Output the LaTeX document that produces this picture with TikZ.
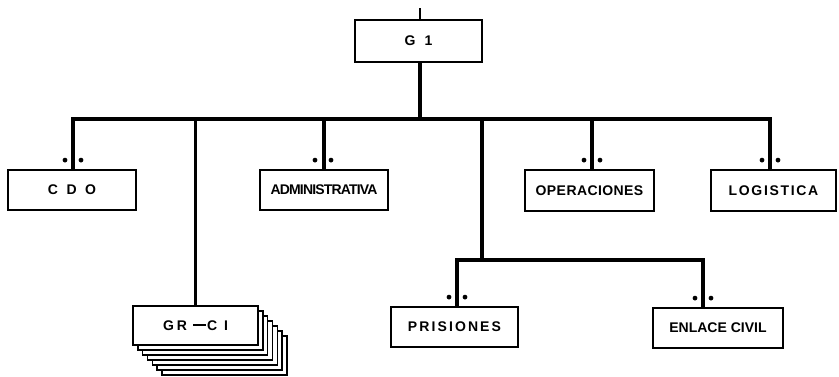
\documentclass[tikz,border=0pt]{standalone}
\usepackage{fontspec}
\setmainfont{Liberation Sans}
\begin{document}
\begin{tikzpicture}[x=1pt,y=-1pt,
  unit/.style={draw, line width=1.8pt, fill=white, rectangle, inner sep=0pt,
    minimum height=40pt, font=\fontsize{14}{16}\selectfont\bfseries},
  link/.style={line width=3.2pt},
  dot/.style={fill=black}]
\useasboundingbox (0,0) rectangle (839,376);

% nodes
\node[unit, minimum width=127pt, minimum height=42pt] (g1) at (418.5,41) {G\hspace{9pt}1};
\node[unit, minimum width=128pt] (cdo) at (72,190) {C\hspace{8.5pt}D\hspace{8.5pt}O};
\node[unit, minimum width=128pt] (adm) at (324,190) {\addfontfeature{LetterSpace=-6}ADMINISTRATIVA};
\node[unit, minimum width=129pt, minimum height=41pt] (ope) at (589.5,190.5) {\addfontfeature{LetterSpace=3}OPERACIONES};
\node[unit, minimum width=125pt, minimum height=41pt] (log) at (773.5,190.5) {\addfontfeature{LetterSpace=12}LOGISTICA};

% stacked GR-CI
\foreach \i in {6,5,...,1}
  \draw[line width=1.4pt, fill=white] (133+4.8*\i,306+5*\i) rectangle ++(125,39);
\node[unit, minimum width=125pt, minimum height=39pt] (grci) at (195.5,325.5)
  {G\hspace{3pt}R\hspace{6pt}\rule[4pt]{13pt}{2pt}\hspace{1pt}C\hspace{7pt}I};

\node[unit, minimum width=127pt] (pri) at (454.5,327) {\addfontfeature{LetterSpace=15}PRISIONES};
\node[unit, minimum width=130pt] (enl) at (718,328) {ENLACE CIVIL};

% coordinates
\coordinate (top) at (420,8);
\coordinate (busL) at (73,119);
\coordinate (busR) at (770,119);
\coordinate (mid) at (482,119);
\coordinate (subL) at (457,260);
\coordinate (subR) at (703,260);

% connectors
\draw[line width=1.8pt] (top) -- (g1.north -| top);
\draw[link] (g1.south -| top) -- (top |- busL);
\draw[link, line cap=rect] (busL) -- (busR);
\draw[link] (busL) -- (cdo.north -| busL);
\draw[link] (grci.north |- busL) -- (grci.north);
\draw[link] (adm.north |- busL) -- (adm.north);
\draw[link] (592,119) coordinate (opeTop) -- (ope.north -| opeTop);
\draw[link] (busR) -- (log.north -| busR);
\draw[link] (mid) -- (mid |- subL);
\draw[link, line cap=rect] (subL) -- (subR);
\draw[link] (subL) -- (pri.north -| subL);
\draw[link] (subR) -- (enl.north -| subR);

% dots
\foreach \n/\x in {cdo/73, adm/323, ope/592, log/770, pri/457, enl/703}{
  \fill[dot] ([yshift=9pt]\n.north -| \x,0) ++(-8,0) circle (2.4pt);
  \fill[dot] ([yshift=9pt]\n.north -| \x,0) ++(8,0) circle (2.4pt);
}
\end{tikzpicture}
\end{document}
